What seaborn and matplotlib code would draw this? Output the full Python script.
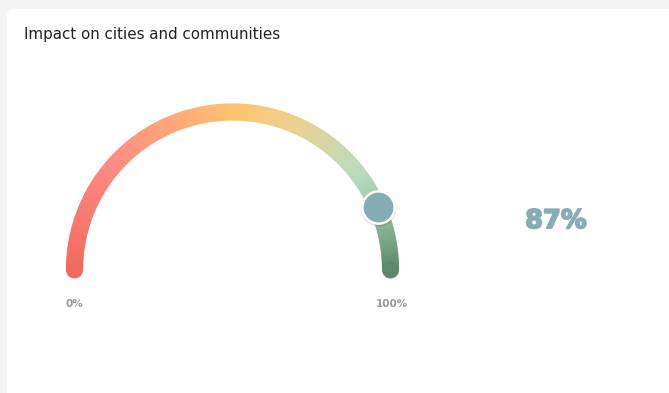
import numpy as np
import pandas as pd
import matplotlib
matplotlib.use("Agg")
import matplotlib.pyplot as plt
import matplotlib.patheffects as pe
from matplotlib.patches import Wedge, Circle, FancyBboxPatch
from matplotlib.colors import LinearSegmentedColormap
import seaborn as sns

# Gauge data
title = "Impact on cities and communities"
value = 87
range_min, range_max = 0, 100
tick_labels = ["0%", "100%"]
value_label = f"{value}%"

# Gradient along the gauge, from the low end to the high end
stop_positions = [0.0, 0.22, 0.38, 0.5, 0.62, 0.8, 0.9, 1.0]
stop_colors = ["#f26a5d", "#fd8a82", "#ffa878", "#ffc270", "#efd08e",
               "#b7dcc1", "#8fbb9a", "#5b8a6b"]

sns.set_theme(style="white")
plt.rcParams["font.family"] = ["DejaVu Sans"]

W, H = 669, 393
fig = plt.figure(figsize=(W / 100, H / 100), dpi=100)
fig.patch.set_facecolor("#f4f4f4")
ax = fig.add_axes([0, 0, 1, 1])
ax.set_xlim(0, W)
ax.set_ylim(H, 0)
ax.set_aspect("equal")
ax.axis("off")

# Card
card = FancyBboxPatch((7, 9), W + 20, H + 20, boxstyle="round,pad=0,rounding_size=7",
                      facecolor="white", edgecolor="none", zorder=0)
ax.add_patch(card)

ax.text(24, 35, title, fontsize=10.9, color="#222222", ha="left", va="center")

# Gauge geometry (pixel space, y grows downward)
cx, cy, R, thick = 232.5, 270, 158, 17
cmap = LinearSegmentedColormap.from_list("gauge", list(zip(stop_positions, stop_colors)))

n = 240
frac_edges = np.linspace(0, 1, n + 1)
for i in range(n):
    f0, f1 = frac_edges[i], frac_edges[i + 1]
    # on a flipped y axis, angles measured from +x go clockwise visually
    a0 = 180 + 180 * f0
    a1 = 180 + 180 * f1 + 0.4
    ax.add_patch(Wedge((cx, cy), R + thick / 2, a0, a1, width=thick,
                       facecolor=cmap((f0 + f1) / 2), edgecolor="none", zorder=2))

# Round caps at both ends
ax.add_patch(Circle((cx - R, cy), thick / 2, facecolor=cmap(0.0), edgecolor="none", zorder=2))
ax.add_patch(Circle((cx + R, cy), thick / 2, facecolor=cmap(1.0), edgecolor="none", zorder=2))

# Marker for the current value
frac = (value - range_min) / (range_max - range_min)
theta = np.pi * (1 - frac)
marker_df = pd.DataFrame({"x": [cx + R * np.cos(theta)], "y": [cy - R * np.sin(theta)]})
for s, a in [(700, 0.04), (640, 0.06), (590, 0.08)]:
    ax.scatter(marker_df["x"] + 0.5, marker_df["y"] + 1, s=s, color="#000000",
               alpha=a, linewidths=0, zorder=3)
sns.scatterplot(data=marker_df, x="x", y="y", ax=ax, s=540, color="#86adb3",
                edgecolor="white", linewidth=1.8, zorder=4, legend=False)
ax.set_xlim(0, W)
ax.set_ylim(H, 0)
ax.axis("off")

# End labels
ax.text(cx - R, 304, tick_labels[0], fontsize=7.5, fontweight="bold", color="#9a9a9a",
        ha="center", va="center")
ax.text(cx + R + 1, 304, tick_labels[1], fontsize=7.5, fontweight="bold", color="#9a9a9a",
        ha="center", va="center")

# Value readout
ax.text(556, 221, value_label, fontsize=18.5, fontweight="bold",
        color="#86adb3", ha="center", va="center",
        path_effects=[pe.withStroke(linewidth=1.3, foreground="#86adb3")])

fig.savefig("out.png", dpi=100, facecolor=fig.get_facecolor())
